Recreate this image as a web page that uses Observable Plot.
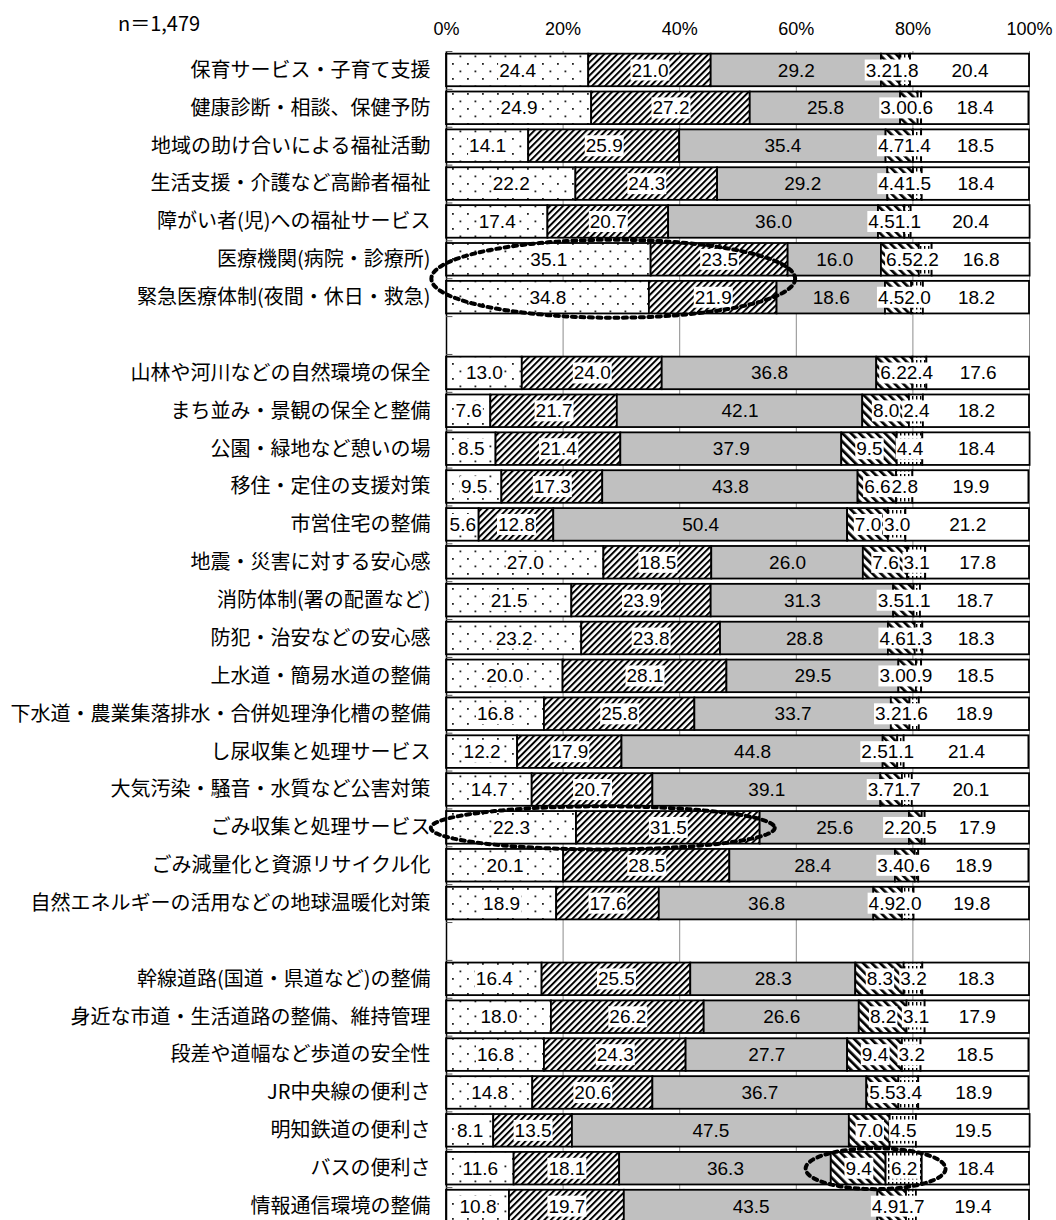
<!DOCTYPE html>
<html lang="ja">
<head>
<meta charset="utf-8">
<script src="https://cdn.jsdelivr.net/npm/d3@7"></script>
<script src="https://cdn.jsdelivr.net/npm/@observablehq/plot@0.6"></script>
<style>
  html, body { margin: 0; padding: 0; background: #fff; overflow: hidden; }
  #wrap { position: relative; width: 1056px; height: 1220px; overflow: hidden; }
  #n { position: absolute; left: 118px; top: 8px; font: 20px "Noto Sans CJK JP", sans-serif; color: #000; }
</style>
</head>
<body>
<div id="wrap">
  <div id="n">n＝1,479</div>
  <div id="chart"></div>
</div>
<script>
// Survey items, top to bottom
const items = [
  "保育サービス・子育て支援",
  "健康診断・相談、保健予防",
  "地域の助け合いによる福祉活動",
  "生活支援・介護など高齢者福祉",
  "障がい者(児)への福祉サービス",
  "医療機関(病院・診療所)",
  "緊急医療体制(夜間・休日・救急)",
  "山林や河川などの自然環境の保全",
  "まち並み・景観の保全と整備",
  "公園・緑地など憩いの場",
  "移住・定住の支援対策",
  "市営住宅の整備",
  "地震・災害に対する安心感",
  "消防体制(署の配置など)",
  "防犯・治安などの安心感",
  "上水道・簡易水道の整備",
  "下水道・農業集落排水・合併処理浄化槽の整備",
  "し尿収集と処理サービス",
  "大気汚染・騒音・水質など公害対策",
  "ごみ収集と処理サービス",
  "ごみ減量化と資源リサイクル化",
  "自然エネルギーの活用などの地球温暖化対策",
  "幹線道路(国道・県道など)の整備",
  "身近な市道・生活道路の整備、維持管理",
  "段差や道幅など歩道の安全性",
  "JR中央線の便利さ",
  "明知鉄道の便利さ",
  "バスの便利さ",
  "情報通信環境の整備"
];

// A blank row follows each of these items
const sectionEnds = ["緊急医療体制(夜間・休日・救急)", "自然エネルギーの活用などの地球温暖化対策"];

// Percentages per answer, in item order
const satisfied          = [24.4, 24.9, 14.1, 22.2, 17.4, 35.1, 34.8, 13.0, 7.6, 8.5, 9.5, 5.6, 27.0, 21.5, 23.2, 20.0, 16.8, 12.2, 14.7, 22.3, 20.1, 18.9, 16.4, 18.0, 16.8, 14.8, 8.1, 11.6, 10.8];
const fairlySatisfied    = [21.0, 27.2, 25.9, 24.3, 20.7, 23.5, 21.9, 24.0, 21.7, 21.4, 17.3, 12.8, 18.5, 23.9, 23.8, 28.1, 25.8, 17.9, 20.7, 31.5, 28.5, 17.6, 25.5, 26.2, 24.3, 20.6, 13.5, 18.1, 19.7];
const neutral            = [29.2, 25.8, 35.4, 29.2, 36.0, 16.0, 18.6, 36.8, 42.1, 37.9, 43.8, 50.4, 26.0, 31.3, 28.8, 29.5, 33.7, 44.8, 39.1, 25.6, 28.4, 36.8, 28.3, 26.6, 27.7, 36.7, 47.5, 36.3, 43.5];
const fairlyDissatisfied = [3.2, 3.0, 4.7, 4.4, 4.5, 6.5, 4.5, 6.2, 8.0, 9.5, 6.6, 7.0, 7.6, 3.5, 4.6, 3.0, 3.2, 2.5, 3.7, 2.2, 3.4, 4.9, 8.3, 8.2, 9.4, 5.5, 7.0, 9.4, 4.9];
const dissatisfied       = [1.8, 0.6, 1.4, 1.5, 1.1, 2.2, 2.0, 2.4, 2.4, 4.4, 2.8, 3.0, 3.1, 1.1, 1.3, 0.9, 1.6, 1.1, 1.7, 0.5, 0.6, 2.0, 3.2, 3.1, 3.2, 3.4, 4.5, 6.2, 1.7];
const noAnswer           = [20.4, 18.4, 18.5, 18.4, 20.4, 16.8, 18.2, 17.6, 18.2, 18.4, 19.9, 21.2, 17.8, 18.7, 18.3, 18.5, 18.9, 21.4, 20.1, 17.9, 18.9, 19.8, 18.3, 17.9, 18.5, 18.9, 19.5, 18.4, 19.4];

const xTicks = [0, 20, 40, 60, 80, 100];

// Dotted rings drawn around notable results
const callouts = [
  { from: "医療機関(病院・診療所)", to: "緊急医療体制(夜間・休日・救急)", x1: -2.6, x2: 59.8, ry: 1.03 },
  { from: "ごみ収集と処理サービス", to: "ごみ収集と処理サービス", x1: -2.7, x2: 56.3, ry: 0.57 },
  { from: "バスの便利さ", to: "バスの便利さ", x1: 61.6, x2: 85.6, ry: 0.54 }
];

// ---- layout & styles ----
const W = 1056, ML = 446, MR = 27, MT = 51, ROW = 37.87;
const series = [satisfied, fairlySatisfied, neutral, fairlyDissatisfied, dissatisfied, noAnswer];
const fills = ["url(#pat-dots)", "url(#pat-fine)", "#c0c0c0", "url(#pat-wide)", "url(#pat-dash)", "#ffffff"];
const NUM_FONT = "'Liberation Sans', Arial, sans-serif";
const JP_FONT = "'Noto Sans CJK JP', sans-serif";
const LABEL_SIZE = 19;

let slot = 0;
const rowOf = items.map(name => {
  const k = slot++;
  if (sectionEnds.includes(name)) slot++;
  return k;
});
const nRows = slot;
const rowByName = new Map(items.map((d, i) => [d, rowOf[i]]));
const H = Math.round(MT + nRows * ROW);
const pxPerPct = (W - ML - MR) / 100;

// approximate label width in x units (digit ≈ 0.556em, point ≈ 0.278em)
const labelWidth = s => (s.replace(".", "").length * 0.556 + (s.includes(".") ? 0.278 : 0)) * LABEL_SIZE / pxPerPct;

// stacked segments
const segments = [];
items.forEach((name, i) => {
  let acc = 0;
  series.forEach((vals, s) => {
    const v = vals[i];
    segments.push({ name, row: rowOf[i], s, v, x1: acc, x2: acc + v, label: v.toFixed(1) });
    acc += v;
  });
});

// label positions: centred, the 4th answer pushed left of the 5th when they would collide
const labels = [];
items.forEach((name) => {
  const segs = segments.filter(d => d.name === name);
  const c = segs.map(d => (d.x1 + d.x2) / 2);
  segs.forEach((d, s) => {
    let lx = c[s];
    if (s === 3) lx = Math.min(c[3], c[4] - (labelWidth(segs[3].label) + labelWidth(segs[4].label)) / 2);
    labels.push({ ...d, lx });
  });
});

const boundaries = d3.range(-0.5, nRows, 1);

const ellipsePts = callouts.flatMap((c, k) => {
  const cx = (c.x1 + c.x2) / 2, rx = (c.x2 - c.x1) / 2;
  const cy = (rowByName.get(c.from) + rowByName.get(c.to)) / 2;
  return d3.range(0, 361, 3).map(a => {
    const t = a * Math.PI / 180;
    return { k, x: cx + rx * Math.cos(t), y: cy + c.ry * Math.sin(t) };
  });
});

const chart = Plot.plot({
  width: W,
  height: H,
  marginLeft: ML,
  marginRight: MR,
  marginTop: MT,
  marginBottom: 0,
  x: { domain: [0, 100], axis: null },
  y: { domain: [-0.5, nRows - 0.5], reverse: true, axis: null },
  color: { type: "identity" },
  style: { fontFamily: NUM_FONT, fontSize: "18px", background: "white", color: "black" },
  marks: [
    Plot.ruleX(xTicks.slice(1), { stroke: "#8c8c8c", strokeWidth: 1 }),
    Plot.rect(segments, {
      x1: "x1", x2: "x2",
      y1: d => d.row - 0.43, y2: d => d.row + 0.43,
      fill: d => fills[d.s], stroke: "black", strokeWidth: 1.8
    }),
    Plot.ruleX([0], { stroke: "black", strokeWidth: 1.5 }),
    Plot.ruleY(boundaries, { x1: 0, x2: 1.1, stroke: "#555", strokeWidth: 1 }),
    Plot.text(xTicks, { x: d => d, text: d => d + "%", frameAnchor: "top", dy: -29, fontSize: 18, fontFamily: NUM_FONT }),
    Plot.text(items, { x: 0, y: (d, i) => rowOf[i], text: d => d, textAnchor: "end", dx: -16, fontSize: 20, fontFamily: JP_FONT }),
    Plot.text(labels.filter(d => d.s !== 2), {
      x: "lx", y: "row", text: "label", fontSize: LABEL_SIZE, fontFamily: NUM_FONT, ariaDescription: "boxed"
    }),
    Plot.text(labels.filter(d => d.s === 2), {
      x: "lx", y: "row", text: "label", fontSize: LABEL_SIZE, fontFamily: NUM_FONT
    }),
    Plot.line(ellipsePts, { x: "x", y: "y", z: "k", stroke: "black", strokeWidth: 4, strokeDasharray: "4 4.5", curve: "linear" })
  ]
});

document.getElementById("chart").appendChild(chart);

// fill patterns used by the bars
const svg = d3.select(chart);
const defs = svg.insert("defs", ":first-child");
function pattern(id, w, h, transform) {
  const p = defs.append("pattern").attr("id", id).attr("patternUnits", "userSpaceOnUse")
    .attr("width", w).attr("height", h);
  if (transform) p.attr("patternTransform", transform);
  p.append("rect").attr("width", w).attr("height", h).attr("fill", "white");
  return p;
}
const dots = pattern("pat-dots", 15, 15);
dots.append("rect").attr("x", 2).attr("y", 3).attr("width", 1.8).attr("height", 1.8).attr("fill", "#222");
dots.append("rect").attr("x", 9.5).attr("y", 10.5).attr("width", 1.8).attr("height", 1.8).attr("fill", "#222");
pattern("pat-fine", 4.6, 10, "rotate(45)")
  .append("rect").attr("width", 2).attr("height", 10).attr("fill", "black");
pattern("pat-wide", 6, 10, "rotate(-45)")
  .append("rect").attr("width", 2.7).attr("height", 10).attr("fill", "black");
pattern("pat-dash", 4, 6)
  .append("rect").attr("width", 1.4).attr("height", 3.5).attr("fill", "black");

// white boxes behind the data labels
svg.selectAll('g[aria-description="boxed"]').each(function () {
  const g = this;
  const texts = Array.from(g.querySelectorAll("text"));
  const first = g.firstChild;
  texts.forEach(t => {
    const b = t.getBBox();
    const r = document.createElementNS("http://www.w3.org/2000/svg", "rect");
    r.setAttribute("x", b.x - 1);
    r.setAttribute("y", b.y);
    r.setAttribute("width", b.width + 2);
    r.setAttribute("height", b.height);
    r.setAttribute("fill", "white");
    const tr = t.getAttribute("transform");
    if (tr) r.setAttribute("transform", tr);
    g.insertBefore(r, first);
  });
});
</script>
</body>
</html>
